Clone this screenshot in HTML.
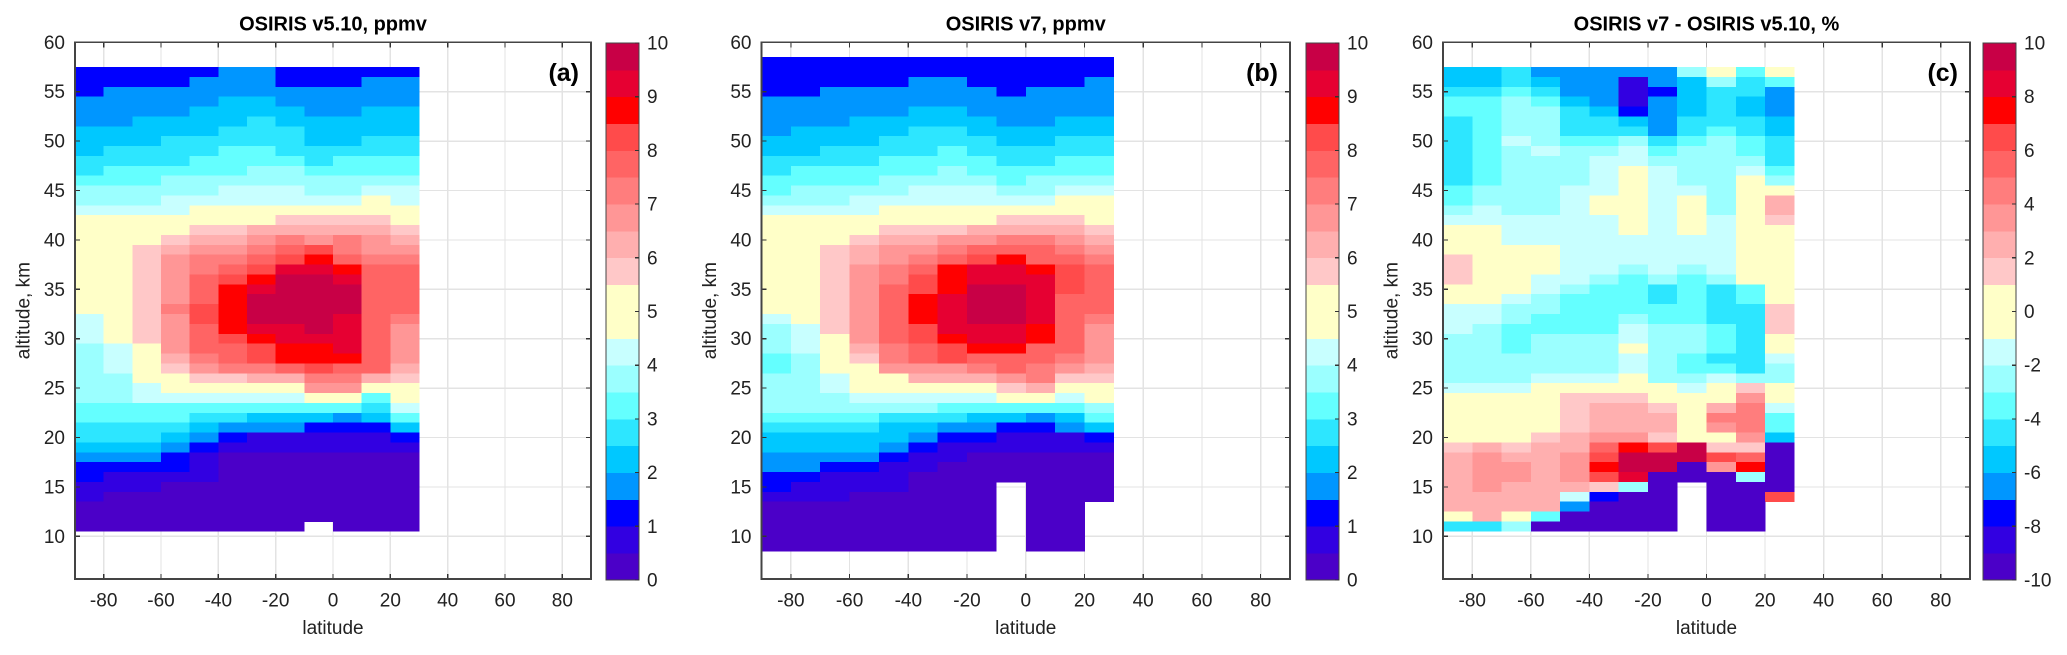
<!DOCTYPE html>
<html><head><meta charset="utf-8">
<style>
html,body{margin:0;padding:0;background:#fff;}
svg{display:block;font-family:"Liberation Sans",Arial,sans-serif;}
</style></head>
<body>
<svg id="fig" width="2067" height="655" viewBox="0 0 2067 655" xmlns="http://www.w3.org/2000/svg" shape-rendering="crispEdges"></svg>
<script>
// ---- data (level codes: 0-9,a-j => class index 0..19; '-' = no data) ----
const latCenters = [-85,-75,-65,-55,-45,-35,-25,-15,-5,5,15,25];
const altTopA = 57;
const rowsA = [
"222223322222","222233322233","233333333333","333334433333","333344443344",
"334444544444","444445554444","444555554455","455556655555","555566665666",
"566666776666","666777777777","777778887788","777888888898","888899999999",
"9999999bbbb9","9999bbcccccb","999bccdededc","99bcddefgedd","99bdeefghfee",
"99bdefgiihff","99bdfghjjiff","99bdfhijjjff","99bdfhjjjjff","99beghjjjjff",
"89bdghjjjife","89bdfhiijifd","89bdfghiiifd","789dffghhifd","789cefghhhfd",
"789bdeefgffc","7799bbcceecb","77899999dd99","778888889969","666666666658",
"666655444346","555543332224","555432111112","444321111111","333210000000",
"222210000000","211110000000","111000000000","100000000000","000000000000",
"000000000000","00000000-000"];
const altTopB = 58;
const rowsB = [
"222222222222","222222222222","222223322223","223333332333","333333333333",
"333334433333","333444443344","344445544444","444455554455","445555655555",
"555566665566","566666766666","666677776777","677778887788","777888888899",
"888899999999","99999999bbb9","9999bbbccccb","999bccddeedc","99bcddefffed",
"99bcdefghffe","99bdefhiihgf","99bdeghiiigf","99bdfghjjigf","99bdfhijjiff",
"99bdfhijjiff","89bdfhijjife","78bdfgiiihfd","789dfghiihfd","789cefghhffd",
"679befgfffed","6799dddefedc","77899cccdebb","77899999bc99","777888889989",
"777777666667","666655544346","555544332234","444443221112","444432111111",
"333321100000","332211000000","221110000000","21111000-000","11100000-000",
"00000000-00-","00000000-00-","00000000-00-","00000000-00-","00000000-00-"];
const altTopC = 57;
const rowsC = [
"445333337969","445433134756","556533124553","667643134543","667754234543",
"567755435554","567755535654","568766756765","567877867765","567778877775",
"567778987786","567778987797","677788988799","67778998979c","78778998979c",
"88888898989b","998888989899","998888888899","999988888899","b99988888899",
"b99988787899","b99887676799","999876656569","998766656569","88776666655b",
"88766676655b","87666687765b","776777877659","776777977659","777777876558",
"777777876657","777888977877","8889999989b9","9999bbb999d9","9999bccb9ce8",
"9999bccc9ee6","9999bccc9de6","999bcddb99d4","bcbccfhgjbb0","cdccdgjjjgf0",
"cddcdhjj0dh0","cddcdgi00070","cdcccb70-000","cccc8200-00g","cccc3000-00-",
"9c960000-00-","55700000-00-"];
const xTicks = [-80,-60,-40,-20,0,20,40,60,80];
const yTicks = [10,15,20,25,30,35,40,45,50,55,60];
const cbTicksAB = [0,1,2,3,4,5,6,7,8,9,10];
const cbTicksC = [-10,-8,-6,-4,-2,0,2,4,6,8,10];
const titles = ["OSIRIS v5.10, ppmv","OSIRIS v7, ppmv","OSIRIS v7 - OSIRIS v5.10, %"];
const tags = ["(a)","(b)","(c)"];
const palette = ["#4b00c8","#3200e1","#0000ff","#0096ff","#00c8ff","#2de6ff","#64ffff","#9bffff","#c8ffff","#ffffc8",
"#ffffc8","#ffc8c8","#ffafaf","#ff9696","#ff7d7d","#ff6464","#ff4b4b","#ff0000","#e60032","#c80046"];

const NS="http://www.w3.org/2000/svg";
const svg=document.getElementById('fig');
function mk(tag,attrs,parent){const e=document.createElementNS(NS,tag);for(const k in attrs)e.setAttribute(k,attrs[k]);(parent||svg).appendChild(e);return e;}

const TOP=42.3, PXKM=9.88, BOT=579;
const panels=[
 {L:75,R:591,cbL:606,cbR:639,rows:rowsA,altTop:altTopA,vmin:0,vmax:10,ticks:cbTicksAB,toVal:k=>(k+0.5)*0.5},
 {L:761.5,R:1290,cbL:1306,cbR:1339,rows:rowsB,altTop:altTopB,vmin:0,vmax:10,ticks:cbTicksAB,toVal:k=>(k+0.5)*0.5},
 {L:1443,R:1970,cbL:1983,cbR:2016,rows:rowsC,altTop:altTopC,vmin:-10,vmax:10,ticks:cbTicksC,toVal:k=>k-10+0.5}
];
function yAlt(a){return TOP+(60-a)*PXKM;}

panels.forEach((p,pi)=>{
  const g=mk('g',{});
  
  
  const xs=lat=>p.L+(lat+90)*(p.R-p.L)/180;
  // grid
  xTicks.forEach(t=>{const l=mk('line',{x1:xs(t),x2:xs(t),y1:TOP,y2:BOT,stroke:'#e3e3e3','stroke-width':1.3},g);
    });
  yTicks.forEach(t=>{const l=mk('line',{x1:p.L,x2:p.R,y1:yAlt(t),y2:yAlt(t),stroke:'#e3e3e3','stroke-width':1.3},g);
    });
  // cells
  const cg=mk('g',{},g);
  
  
  const step=(p.vmax-p.vmin)/20;
  p.rows.forEach((row,ri)=>{
    const alt=p.altTop-ri;
    for(let ci=0;ci<row.length;ci++){
      const ch=row[ci]; if(ch==='-')continue;
      const v=p.toVal(parseInt(ch,20));
      let idx=Math.floor((v-p.vmin)/step); idx=Math.max(0,Math.min(19,idx));
      const lat=latCenters[ci];
      const x0=xs(lat-5),x1=xs(lat+5),y0=yAlt(alt+0.5),y1=yAlt(alt-0.5);
      const r=mk('rect',{x:x0,y:y0,width:x1-x0+0.3,height:y1-y0+0.3,fill:palette[idx]},cg);
      
      
    }
  });
  // ticks
  xTicks.forEach(t=>{
    mk('line',{x1:xs(t),x2:xs(t),y1:BOT,y2:BOT-5,stroke:'#333','stroke-width':1.2},g);
    mk('line',{x1:xs(t),x2:xs(t),y1:TOP,y2:TOP+5,stroke:'#333','stroke-width':1.2},g);
    const tx=mk('text',{x:xs(t),y:601,'font-size':19,'text-anchor':'middle','dominant-baseline':'central',fill:'#222'},g);
    tx.textContent=String(t).replace('-','-');
    
  });
  yTicks.forEach(t=>{
    mk('line',{x1:p.L,x2:p.L+5,y1:yAlt(t),y2:yAlt(t),stroke:'#333','stroke-width':1.2},g);
    mk('line',{x1:p.R,x2:p.R-5,y1:yAlt(t),y2:yAlt(t),stroke:'#333','stroke-width':1.2},g);
    const tx=mk('text',{x:p.L-10,y:yAlt(t)+1,'font-size':19,'text-anchor':'end','dominant-baseline':'central',fill:'#222'},g);
    tx.textContent=t;
    
  });
  const box=mk('rect',{x:p.L,y:TOP,width:p.R-p.L,height:BOT-TOP,fill:'none',stroke:'#444','stroke-width':1.6},g);
  
  // labels
  const ti=mk('text',{x:(p.L+p.R)/2,y:30.5,'font-size':20,'font-weight':'bold','text-anchor':'middle',fill:'#000'},g);
  ti.textContent=titles[pi];
  const tg=mk('text',{x:p.R-12,y:81,'font-size':25,'font-weight':'bold','text-anchor':'end',fill:'#000'},g);
  tg.textContent=tags[pi];
  const xl=mk('text',{x:(p.L+p.R)/2,y:634,'font-size':19,'text-anchor':'middle',fill:'#222'},g);
  xl.textContent='latitude';
  const yc=(TOP+BOT)/2, yx=p.L-51;
  const yl=mk('text',{x:yx,y:yc,'font-size':19,'text-anchor':'middle','dominant-baseline':'central',fill:'#222',transform:`rotate(-90 ${yx} ${yc})`},g);
  yl.textContent='altitude, km';
  // colorbar
  const cb=mk('g',{},g);
  
  
  const cTop=43,cBot=580,seg=(cBot-cTop)/20;
  for(let i=0;i<20;i++){
    const r=mk('rect',{x:p.cbL,y:cBot-(i+1)*seg,width:p.cbR-p.cbL,height:seg+0.4,fill:palette[i]},cb);
    
  }
  mk('rect',{x:p.cbL,y:cTop,width:p.cbR-p.cbL,height:cBot-cTop,fill:'none',stroke:'#444','stroke-width':1.3},cb);
  p.ticks.forEach(t=>{
    const y=cBot-(t-p.vmin)/(p.vmax-p.vmin)*(cBot-cTop);
    mk('line',{x1:p.cbR,x2:p.cbR-4,y1:y,y2:y,stroke:'#333','stroke-width':1.2},cb);
    const tx=mk('text',{x:p.cbR+8,y:y+1,'font-size':19,'dominant-baseline':'central',fill:'#222'},cb);
    tx.textContent=t;
    
  });
});
</script>
</body></html>
